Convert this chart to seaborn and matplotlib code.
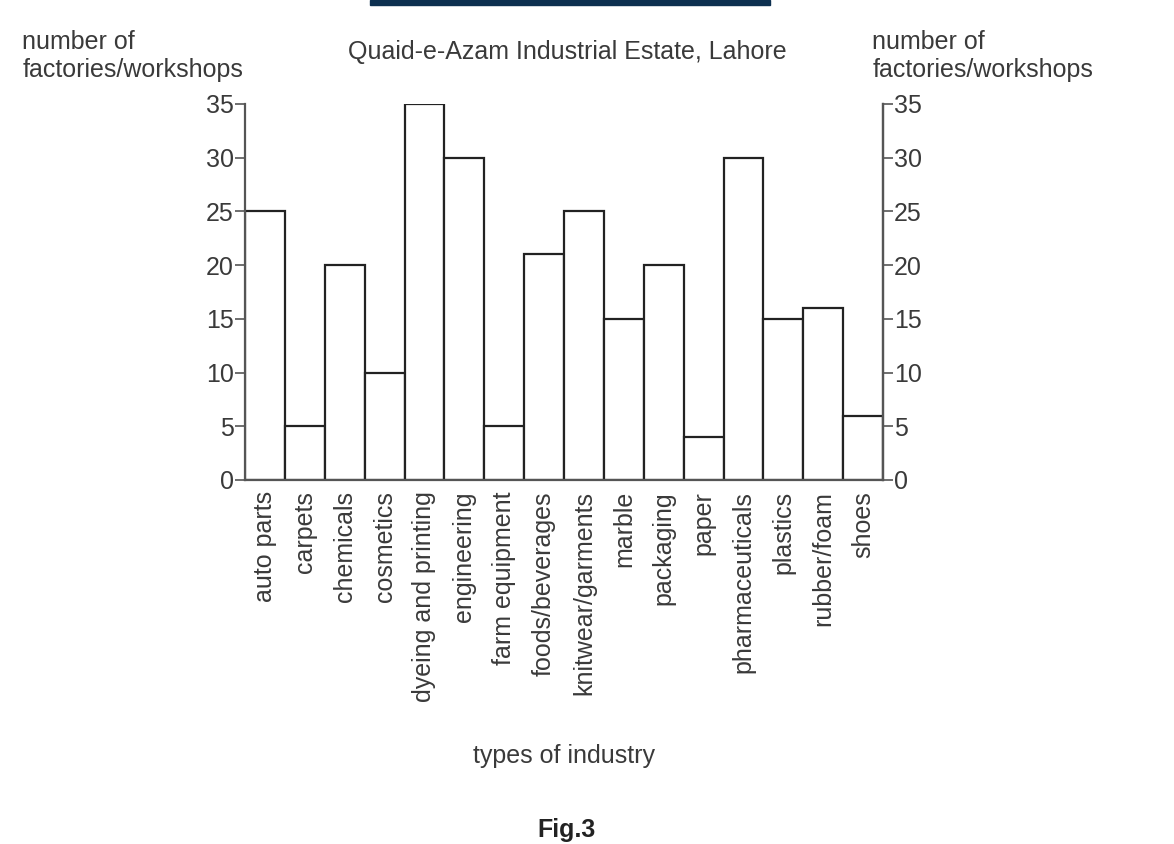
import matplotlib.pyplot as plt
import pandas as pd
import seaborn as sns
from matplotlib.patches import Rectangle

industries = [
    "auto parts", "carpets", "chemicals", "cosmetics", "dyeing and printing",
    "engineering", "farm equipment", "foods/beverages", "knitwear/garments",
    "marble", "packaging", "paper", "pharmaceuticals", "plastics",
    "rubber/foam", "shoes",
]
factories = [25, 5, 20, 10, 35, 30, 5, 21, 25, 15, 20, 4, 30, 15, 16, 6]
y_ticks = [0, 5, 10, 15, 20, 25, 30, 35]

df = pd.DataFrame({"industry": industries, "count": factories})

sns.set_theme(style="white")
plt.rcParams["font.family"] = ["Liberation Sans", "DejaVu Sans"]
line_col = "#555555"
text_col = "#3a3a3a"
fs = 18

fig = plt.figure(figsize=(11.74, 8.44), dpi=100)
ax = fig.add_axes([0.2087, 0.4313, 0.5435, 0.4455])

sns.barplot(data=df, x="industry", y="count", ax=ax, width=1.0,
            color="white", edgecolor="#222222", linewidth=1.6)

ax.set_xlim(-0.5, len(industries) - 0.5)
ax.set_ylim(0, 35)
ax.set_yticks(y_ticks)
ax.tick_params(axis="y", direction="out", length=7, width=1.2, color=line_col,
               labelsize=fs, labelcolor=text_col, pad=1, left=True)
ax.tick_params(axis="x", length=0, labelsize=fs, labelcolor=text_col, pad=8)
ax.set_xticks(range(len(industries)))
ax.set_xticklabels(industries, rotation=90, va="top")
ax.set_xlabel("types of industry", fontsize=fs, color=text_col, labelpad=30)
ax.set_ylabel("")

for side in ["left", "right", "bottom"]:
    ax.spines[side].set_visible(True)
    ax.spines[side].set_color(line_col)
    ax.spines[side].set_linewidth(1.6)
ax.spines["top"].set_visible(False)

ax2 = ax.twinx()
ax2.set_ylim(0, 35)
ax2.set_yticks(y_ticks)
ax2.tick_params(axis="y", direction="out", length=7, width=1.2, color=line_col,
                labelsize=fs, labelcolor=text_col, pad=1, right=True)
for side in ["left", "top", "bottom"]:
    ax2.spines[side].set_visible(False)
ax2.spines["right"].set_color(line_col)
ax2.spines["right"].set_linewidth(1.6)
ax2.grid(False)
ax.grid(False)

fig.text(0.296, 0.938, "Quaid-e-Azam Industrial Estate, Lahore",
         fontsize=fs, color=text_col, va="center")
fig.text(0.019, 0.934, "number of\nfactories/workshops", fontsize=fs,
         color=text_col, va="center", linespacing=1.2)
fig.text(0.743, 0.934, "number of\nfactories/workshops", fontsize=fs,
         color=text_col, va="center", linespacing=1.2)
fig.text(0.458, 0.002, "Fig.3", fontsize=fs, color="#222222",
         fontweight="bold", va="bottom")

fig.patches.append(Rectangle((0.315, 0.994), 0.341, 0.006,
                             transform=fig.transFigure, color="#0d3050"))

fig.savefig("out.png", dpi=100)
